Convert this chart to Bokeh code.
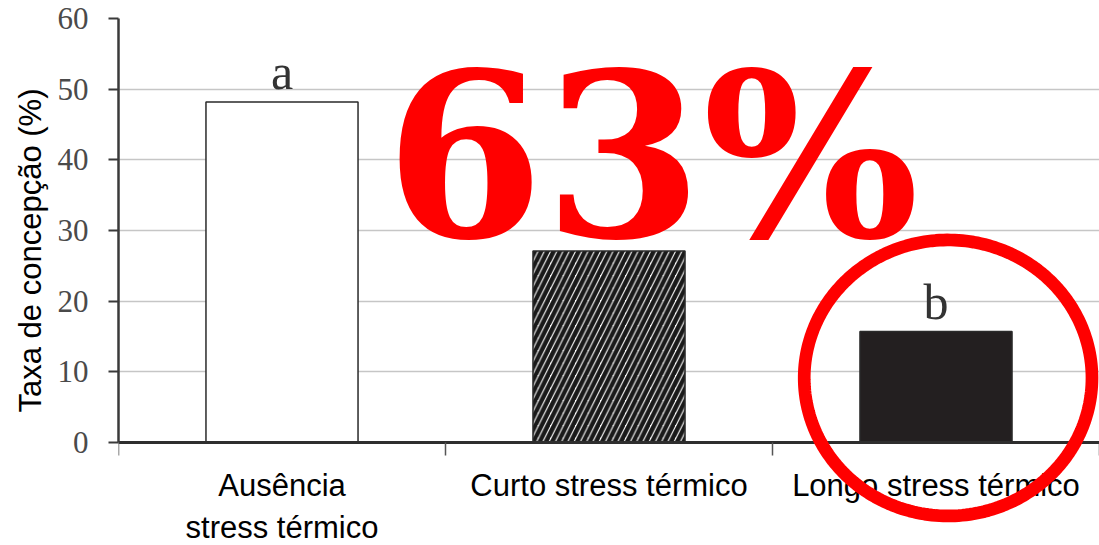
import numpy as np
from bokeh.plotting import figure
from bokeh.models import (ColumnDataSource, FixedTicker, Range1d, Label,
                          PolyAnnotation, Title)
from bokeh.core.properties import value
from bokeh.embed import file_html
from bokeh.resources import INLINE

# ---- data ----
categories = ["Ausência\nstress térmico", "Curto stress térmico", "Longo stress térmico"]
conception_rate = [48.2, 27.1, 15.7]
letters = ["a", "", "b"]
fills = ["#ffffff", "#ffffff", "#231f20"]
hatches = [" ", "/", " "]
y_ticks = [0, 10, 20, 30, 40, 50, 60]
y_title = "Taxa de concepção (%)"
highlight_text = "63%"

xs = [i + 0.5 for i in range(len(categories))]
src = ColumnDataSource(dict(x=xs, top=conception_rate, letter=letters,
                            fill=fills, hatch=hatches))

# frame covers the whole lower area; the x axis is pinned at y = 0
p = figure(width=1099, height=545, output_backend="svg", toolbar_location=None,
           x_range=Range1d(0, 3.0), y_range=Range1d(-14.58, 60),
           min_border_left=118, min_border_right=0, min_border_top=18,
           min_border_bottom=0)
p.outline_line_color = None
p.background_fill_color = "white"

# grid
p.xgrid.visible = False
p.ygrid.ticker = FixedTicker(ticks=y_ticks)
p.ygrid.grid_line_color = "#c6c6c6"
p.ygrid.grid_line_width = 1.5

# y axis
ya = p.yaxis[0]
ya.ticker = FixedTicker(ticks=y_ticks, minor_ticks=[])
ya.bounds = (0, 60)
ya.axis_line_color = "#3a3a3a"
ya.axis_line_width = 2.5
ya.major_tick_out = 10
ya.major_tick_in = 0
ya.major_tick_line_color = "#3a3a3a"
ya.major_tick_line_width = 2
ya.major_label_text_font = "Liberation Serif"
ya.major_label_text_font_size = "31px"
ya.major_label_text_color = "#4a4a4a"
ya.major_label_standoff = 20

# y axis title, placed along the 0-60 part of the axis
p.add_layout(Title(text=y_title, align="left", offset=133, standoff=14,
                   text_font="Liberation Sans", text_font_style="normal",
                   text_font_size="31px", text_color="#000000"), "left")

# x axis
xa = p.xaxis[0]
xa.fixed_location = 0
xa.ticker = FixedTicker(ticks=xs, minor_ticks=[i for i in range(len(categories) + 1)])
xa.major_label_overrides = {x: c for x, c in zip(xs, categories)}
xa.axis_line_color = "#2e2e2e"
xa.axis_line_width = 3
xa.major_tick_out = 0
xa.major_tick_in = 0
xa.minor_tick_out = 13
xa.minor_tick_in = 0
xa.minor_tick_line_color = "#555555"
xa.minor_tick_line_width = 1.5
xa.major_label_text_font = "Liberation Sans"
xa.major_label_text_font_size = "31px"
xa.major_label_text_color = "#000000"
xa.major_label_standoff = 13

# bars
p.vbar(x="x", top="top", width=0.465, source=src, fill_color="fill",
       line_color="#2a2a2a", line_width=1.5, hatch_pattern="hatch",
       hatch_color="#1a1a1a", hatch_weight=4.5, hatch_scale=12.5)

# significance letters
p.text(x="x", y="top", text="letter", source=src, y_offset=-2,
       text_align="center", text_baseline="bottom",
       text_font=value("Liberation Serif"), text_font_size="50px",
       text_color="#333333")

# big red highlight text
p.add_layout(Label(x=0.816, y=21.4, text=highlight_text,
                   text_font="DejaVu Serif", text_font_style="bold",
                   text_font_size="228px", text_color="#ff0000",
                   text_baseline="bottom", text_align="left"))

# red ring around third bar
cx, cy, rx, ry = 2.537, 9.13, 0.440, 19.53
t = np.linspace(0, 2 * np.pi, 240)
p.add_layout(PolyAnnotation(xs=list(cx + rx * np.cos(t)), ys=list(cy + ry * np.sin(t)),
                            xs_units="data", ys_units="data",
                            fill_color=None, fill_alpha=0,
                            line_color="#ff0000", line_alpha=1.0, line_width=12.7))

open("out.html", "w").write(file_html(p, INLINE))
